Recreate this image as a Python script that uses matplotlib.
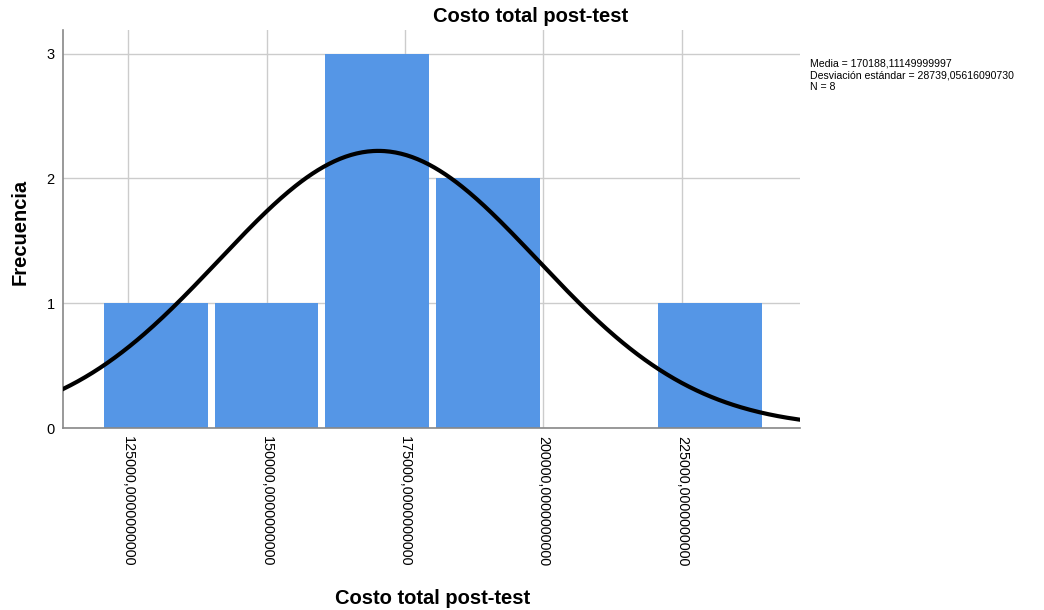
import numpy as np
import matplotlib.pyplot as plt

plt.rcParams['font.family'] = ['Liberation Sans', 'DejaVu Sans']

# histogram bins (lower edges) and counts
bin_edges = [120000, 140000, 160000, 180000, 200000, 220000, 240000]
counts = [1, 1, 3, 2, 0, 1]
media = 170188.11149999997
desv = 28739.05616090730
n = 8
xticks = [125000, 150000, 175000, 200000, 225000]
yticks = [0, 1, 2, 3]

fig = plt.figure(figsize=(10.44, 6.10), dpi=100)
ax = fig.add_axes([63/1044, 1-428/610, (800-63)/1044, (428-30)/610])

width = bin_edges[1] - bin_edges[0]
gap = 1260
ax.bar(np.array(bin_edges[:-1]) + gap/2, counts, width=width-gap, align='edge',
       color='#5596e6', zorder=2)

xs = np.linspace(113267, 246300, 400)
ys = n * width * np.exp(-0.5*((xs-media)/desv)**2) / (desv*np.sqrt(2*np.pi))
ax.plot(xs, ys, color='black', lw=3, zorder=3)

ax.set_xlim(113267, 246300)
ax.set_ylim(0, 3.19)
ax.set_xticks(xticks)
ax.set_xticklabels(['%d,0000000000' % v for v in xticks], rotation=270, fontsize=10.4)
ax.set_yticks(yticks)
ax.set_yticklabels([str(v) for v in yticks], fontsize=10.5)
ax.tick_params(length=0, pad=6)
ax.grid(True, color='#cccccc', lw=1, zorder=0)
ax.set_axisbelow(True)
for s in ['top', 'right']:
    ax.spines[s].set_visible(False)
for s in ['left', 'bottom']:
    ax.spines[s].set_color('#888888')
    ax.spines[s].set_linewidth(1.2)

fig.text(531/1044, 1-17/610, 'Costo total post-test', ha='center', va='center',
         fontsize=14.5, fontweight='bold')
fig.text(433/1044, 1-598/610, 'Costo total post-test', ha='center', va='center',
         fontsize=14.5, fontweight='bold')
fig.text(20/1044, 1-232/610, 'Frecuencia', ha='center', va='center',
         rotation=90, fontsize=14.5, fontweight='bold')

stats = ('Media = 170188,11149999997\n'
         'Desviación estándar = 28739,05616090730\n'
         'N = %d' % n)
fig.text(810/1044, 1-58/610, stats, ha='left', va='top', fontsize=7.6,
         linespacing=1.25)

fig.savefig('out.png', dpi=100)
